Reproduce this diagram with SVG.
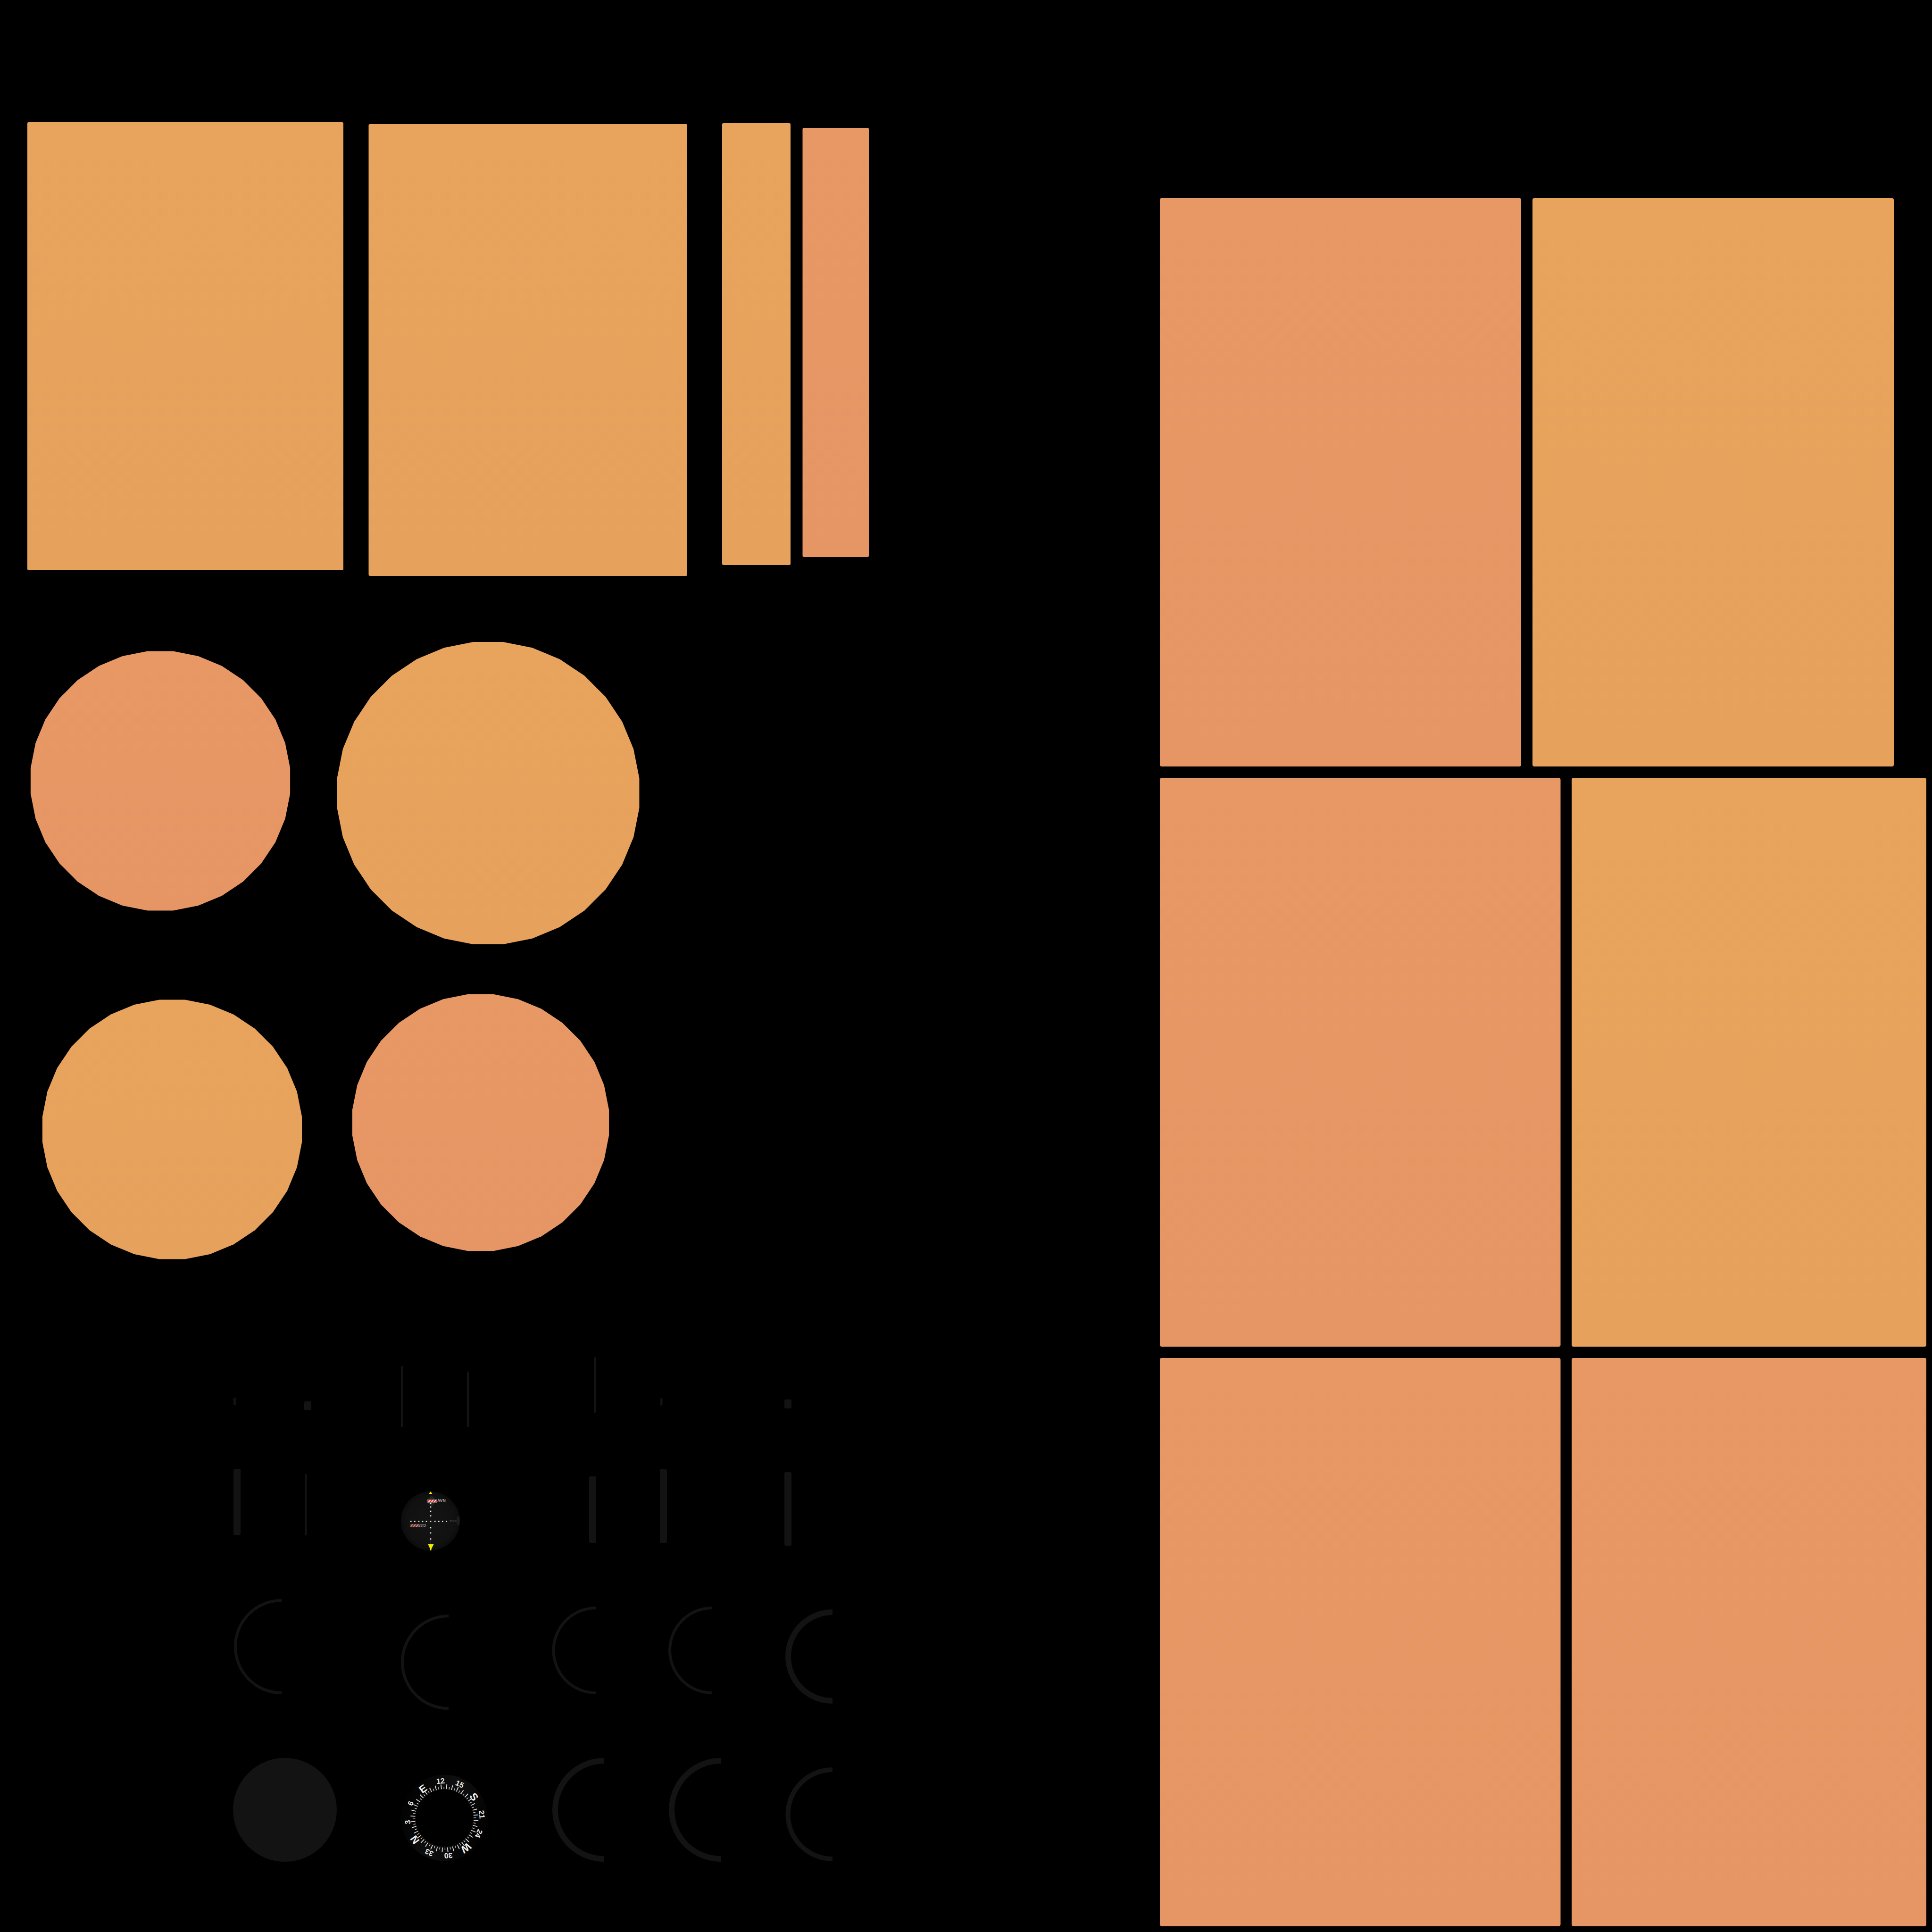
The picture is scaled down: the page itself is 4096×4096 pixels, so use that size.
<svg xmlns="http://www.w3.org/2000/svg" width="4096" height="4096" viewBox="0 0 4096 4096">
<style>
.o{fill:url(#go)}
.s{fill:url(#gs)}
.d{fill:#141314}
.a{fill:none;stroke:#141314}
.n{font-family:"Liberation Sans",Arial,sans-serif;font-weight:700;font-size:16px;fill:#e8e8e8;text-anchor:middle}
.l{font-family:"Liberation Sans",Arial,sans-serif;font-weight:700;font-size:22px;fill:#f0f0f0;text-anchor:middle}
.f{font-family:"Liberation Sans",Arial,sans-serif;font-weight:700;font-size:8.5px;text-anchor:middle}
.dot{fill:#f2f2f2}
</style>
<defs>
<linearGradient id="go" x1="0" y1="0" x2="0" y2="1"><stop offset="0" stop-color="#E8A35D"/><stop offset="1" stop-color="#E6A15C"/></linearGradient>
<linearGradient id="gs" x1="0" y1="0" x2="0" y2="1"><stop offset="0" stop-color="#E79865"/><stop offset="1" stop-color="#E59664"/></linearGradient>
<radialGradient id="gd"><stop offset="0" stop-color="#141414"/><stop offset="0.8" stop-color="#111"/><stop offset="1" stop-color="#0c0c0c"/></radialGradient>
<linearGradient id="gr" gradientUnits="userSpaceOnUse" x1="853" y1="3820" x2="1032" y2="3888"><stop offset="0" stop-color="#010101"/><stop offset="0.5" stop-color="#0f0f0f"/><stop offset="1" stop-color="#010101"/></linearGradient>
<pattern id="st" width="6" height="7" patternUnits="userSpaceOnUse" patternTransform="skewX(-40)"><rect width="6" height="7" fill="#f4f4f4"/><rect width="3.4" height="7" fill="#e0261c"/></pattern>
<polygon id="p32" points="9.8,-99.5 29,-95.7 47.1,-88.2 63.4,-77.3 77.3,-63.4 88.2,-47.1 95.7,-29 99.5,-9.8 99.5,9.8 95.7,29 88.2,47.1 77.3,63.4 63.4,77.3 47.1,88.2 29,95.7 9.8,99.5 -9.8,99.5 -29,95.7 -47.1,88.2 -63.4,77.3 -77.3,63.4 -88.2,47.1 -95.7,29 -99.5,9.8 -99.5,-9.8 -95.7,-29 -88.2,-47.1 -77.3,-63.4 -63.4,-77.3 -47.1,-88.2 -29,-95.7 -9.8,-99.5"/>
</defs>
<rect id="background" width="4096" height="4096" fill="#000"/>
<g id="panel-1"><rect class="o" x="58" y="259" width="670" height="950" rx="3"/></g>
<g id="panel-2"><rect class="o" x="781.5" y="263" width="675.5" height="958" rx="3"/></g>
<g id="panel-3"><rect class="o" x="1531" y="261" width="145" height="937" rx="3"/></g>
<g id="panel-4"><rect class="s" x="1701.5" y="271" width="140.5" height="910" rx="3"/></g>
<g id="disc-1"><use href="#p32" class="s" transform="translate(340 1655.5) scale(2.765)"/></g>
<g id="disc-2"><use href="#p32" class="o" transform="translate(1035 1681.5) scale(3.22)"/></g>
<g id="disc-3"><use href="#p32" class="o" transform="translate(365 2394.5) scale(2.765)"/></g>
<g id="disc-4"><use href="#p32" class="s" transform="translate(1019 2380) scale(2.735)"/></g>
<g id="panel-5"><rect class="s" x="2459" y="420" width="766" height="1205" rx="4"/></g>
<g id="panel-6"><rect class="o" x="3249" y="420" width="766" height="1205" rx="4"/></g>
<g id="panel-7"><rect class="s" x="2459" y="1649.5" width="849.5" height="1205.5" rx="4"/></g>
<g id="panel-8"><rect class="o" x="3332" y="1649.5" width="752" height="1205.5" rx="4"/></g>
<g id="panel-9"><rect class="s" x="2459" y="2879" width="849.5" height="1204.5" rx="4"/></g>
<g id="panel-10"><rect class="s" x="3332" y="2879" width="752" height="1204.5" rx="4"/></g>
<g id="bars">
<rect class="d" x="495" y="2963" width="5" height="16" rx="2"/>
<rect class="d" x="645" y="2971" width="15" height="19" rx="3"/>
<rect class="d" x="850" y="2896" width="4.5" height="130" rx="2"/>
<rect class="d" x="990" y="2908" width="4.5" height="118" rx="2"/>
<rect class="d" x="1259" y="2877" width="4.5" height="118" rx="2"/>
<rect class="d" x="1400" y="2964" width="4.5" height="16" rx="2"/>
<rect class="d" x="1663" y="2967" width="15" height="19" rx="3"/>
<rect class="d" x="495" y="3114" width="15" height="141" rx="3"/>
<rect class="d" x="646" y="3125" width="4.5" height="130" rx="2"/>
<rect class="d" x="1249" y="3130" width="15" height="141" rx="3"/>
<rect class="d" x="1399" y="3115" width="15" height="156" rx="3"/>
<rect class="d" x="1663" y="3121" width="15" height="156" rx="3"/>
</g>
<g id="nav-instrument">
<circle cx="912.5" cy="3224.5" r="62.5" fill="url(#gd)"/>
<polygon points="915,3170.5 927,3182 915,3194 903,3182" fill="#242424"/>
<rect x="912" y="3263" width="2" height="11" fill="#222"/>
<rect x="955" y="3223" width="13" height="3.5" fill="#262626"/>
<circle cx="955" cy="3224" r="1.2" fill="#444"/>
<path d="M974,3214 A62.5,62.5 0 0 1 974,3234 L971,3234 Q968,3232 968,3228 L968,3220 Q968,3216 971,3214 Z" fill="#1c1c1c"/>
<polygon points="912.8,3162 916.5,3167 909.5,3167" fill="#eeee00"/>
<polygon points="907.5,3274 919.5,3274 914.5,3284 914.5,3287 912,3287 912,3284" fill="#eeee00"/>
<g class="dot">
<rect x="870" y="3224" width="2.6" height="2.6"/><rect x="878" y="3224" width="2.6" height="2.6"/><rect x="886.7" y="3224" width="2.6" height="2.6"/><rect x="894.7" y="3224" width="2.6" height="2.6"/><rect x="902.7" y="3224" width="2.6" height="2.6"/><rect x="911.7" y="3224" width="2.6" height="2.6"/><rect x="921" y="3224" width="2.6" height="2.6"/><rect x="929" y="3224" width="2.6" height="2.6"/><rect x="937" y="3224" width="2.6" height="2.6"/><rect x="945.4" y="3224" width="2.6" height="2.6"/>
<rect x="911.7" y="3186.4" width="2.6" height="2.6"/><rect x="911.7" y="3193.7" width="2.6" height="2.6"/><rect x="911.7" y="3202.7" width="2.6" height="2.6"/><rect x="911.7" y="3212.4" width="2.6" height="2.6"/><rect x="911.7" y="3237.7" width="2.6" height="2.6"/><rect x="911.7" y="3248.7" width="2.6" height="2.6"/><rect x="911.7" y="3261.4" width="2.6" height="2.6"/>
</g>
<rect x="906.3" y="3179.3" width="19.7" height="6.2" fill="url(#st)" stroke="#777" stroke-width="0.6"/>
<text class="f" fill="#b4b4b4" transform="rotate(180 936 3181)" x="936" y="3184">NAV</text>
<rect x="870" y="3231.2" width="20" height="6.2" fill="url(#st)" stroke="#555" stroke-width="0.6" opacity="0.65"/>
<text class="f" fill="#8c8c8c" transform="rotate(180 897 3234.3)" x="897" y="3237.3">GS</text>
</g>
<g id="arcs">
<path class="a" stroke-width="6" d="M597,3393 A98,98 0 0 0 597,3589"/>
<path class="a" stroke-width="6" d="M951,3426 A98,98 0 0 0 951,3622"/>
<path class="a" stroke-width="6" d="M1263.5,3409 A90,90 0 0 0 1263.5,3589"/>
<path class="a" stroke-width="6" d="M1510,3409 A90,90 0 0 0 1510,3589"/>
<path class="a" stroke-width="12" d="M1765,3418 A94,94 0 0 0 1765,3606"/>
<circle class="d" cx="604" cy="3837" r="110"/>
<path class="a" stroke-width="12" d="M1281,3733 A104,104 0 0 0 1281,3941"/>
<path class="a" stroke-width="12" d="M1528,3733 A104,104 0 0 0 1528,3941"/>
<path class="a" stroke-width="10" d="M1765,3752 A94.5,94.5 0 0 0 1765,3941"/>
</g>
<g id="compass">
<circle cx="942" cy="3854" r="76" fill="none" stroke="url(#gr)" stroke-width="31"/>
<g transform="rotate(-1 942.3 3855)">
<circle cx="942.3" cy="3855" r="67" fill="none" stroke="#dcdcdc" stroke-width="10" pathLength="360" stroke-dasharray="1.5 8.5" stroke-dashoffset="-4.25"/>
<circle cx="942.3" cy="3855" r="64.5" fill="none" stroke="#cfcfcf" stroke-width="5" pathLength="360" stroke-dasharray="1.2 8.8" stroke-dashoffset="0.6"/>
</g>
<rect x="975.8" y="3801.8" width="1.8" height="1.8" fill="#b0b020"/>
<text class="l" transform="rotate(-126 942.3 3855)" x="942.3" y="3785">N</text>
<text class="n" transform="rotate(-96 942.3 3855)" x="942.3" y="3782">3</text>
<text class="n" transform="rotate(-66 942.3 3855)" x="942.3" y="3782">6</text>
<text class="l" transform="rotate(-36 942.3 3855)" x="942.3" y="3785">E</text>
<text class="n" transform="rotate(-6 942.3 3855)" x="942.3" y="3781">12</text>
<text class="n" transform="rotate(24 942.3 3855)" x="942.3" y="3781">15</text>
<text class="l" transform="rotate(54 942.3 3855)" x="942.3" y="3785">S</text>
<text class="n" transform="rotate(84 942.3 3855)" x="942.3" y="3781">21</text>
<text class="n" transform="rotate(114 942.3 3855)" x="942.3" y="3781">24</text>
<text class="l" transform="rotate(144 942.3 3855)" x="942.3" y="3785">W</text>
<text class="n" transform="rotate(174 942.3 3855)" x="942.3" y="3781">30</text>
<text class="n" transform="rotate(204 942.3 3855)" x="942.3" y="3781">33</text>
</g>
</svg>
